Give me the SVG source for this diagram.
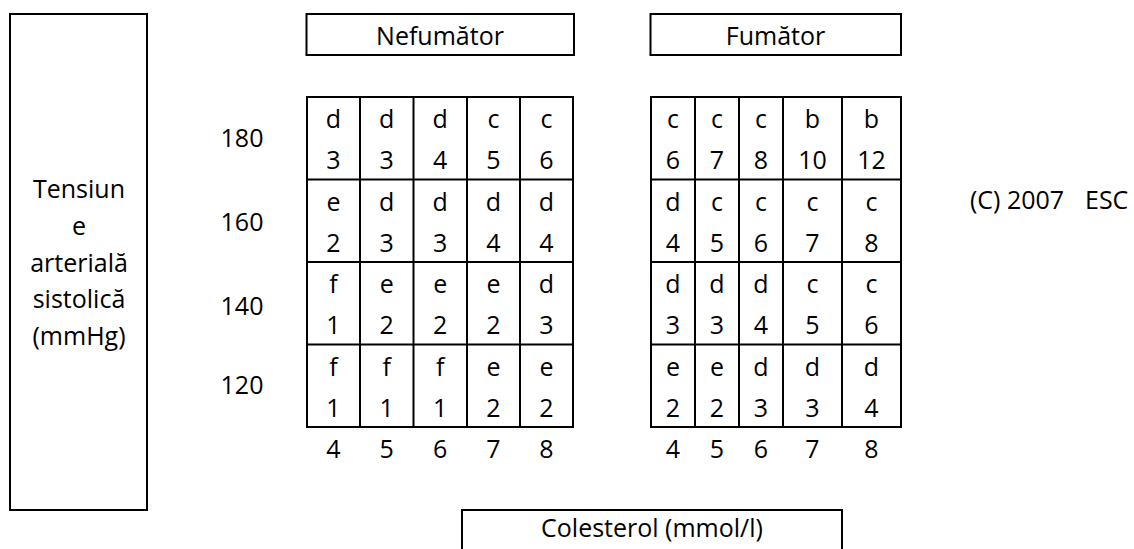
<svg xmlns="http://www.w3.org/2000/svg" width="1134" height="549" viewBox="0 0 1134 549">
<style>
.b{fill:none;stroke:#000;stroke-width:2}
.t{font-family:"Open Sans","Liberation Sans",sans-serif;font-size:25px;fill:#000}
.m{text-anchor:middle}
</style>
<rect width="1134" height="549" fill="#fff"/>
<g id="axis-y">
<rect class="b" x="10" y="14" width="137" height="496"/>
<text class="t m" x="79"><tspan x="79" y="198">Tensiun</tspan><tspan x="79" y="235">e</tspan><tspan x="79" y="271.5">arterială</tspan><tspan x="79" y="308">sistolică</tspan><tspan x="79" y="345">(mmHg)</tspan></text>
</g>
<g id="header-nefumator">
<rect class="b" x="306.5" y="14" width="267.5" height="41"/>
<text class="t m" x="440" y="45">Nefumător</text>
</g>
<g id="header-fumator">
<rect class="b" x="650.5" y="14" width="250.5" height="41"/>
<text class="t m" x="775.5" y="45">Fumător</text>
</g>
<g id="row-labels">
<text class="t m" x="242" y="147">180</text>
<text class="t m" x="242" y="231">160</text>
<text class="t m" x="242" y="315">140</text>
<text class="t m" x="242" y="394">120</text>
</g>
<g id="table-nefumator">
<rect class="b" x="307" y="97" width="266" height="330"/>
<path class="b" d="M360 97V427M413.5 97V427M467 97V427M520 97V427M307 179.5H573M307 262H573M307 344.5H573"/>
<g class="t m">
<text x="333.5" y="128">d</text><text x="386.75" y="128">d</text><text x="440.25" y="128">d</text><text x="493.5" y="128">c</text><text x="546.5" y="128">c</text>
<text x="333.5" y="169">3</text><text x="386.75" y="169">3</text><text x="440.25" y="169">4</text><text x="493.5" y="169">5</text><text x="546.5" y="169">6</text>
<text x="333.5" y="210.5">e</text><text x="386.75" y="210.5">d</text><text x="440.25" y="210.5">d</text><text x="493.5" y="210.5">d</text><text x="546.5" y="210.5">d</text>
<text x="333.5" y="251.5">2</text><text x="386.75" y="251.5">3</text><text x="440.25" y="251.5">3</text><text x="493.5" y="251.5">4</text><text x="546.5" y="251.5">4</text>
<text x="333.5" y="293">f</text><text x="386.75" y="293">e</text><text x="440.25" y="293">e</text><text x="493.5" y="293">e</text><text x="546.5" y="293">d</text>
<text x="333.5" y="334">1</text><text x="386.75" y="334">2</text><text x="440.25" y="334">2</text><text x="493.5" y="334">2</text><text x="546.5" y="334">3</text>
<text x="333.5" y="375.5">f</text><text x="386.75" y="375.5">f</text><text x="440.25" y="375.5">f</text><text x="493.5" y="375.5">e</text><text x="546.5" y="375.5">e</text>
<text x="333.5" y="416.5">1</text><text x="386.75" y="416.5">1</text><text x="440.25" y="416.5">1</text><text x="493.5" y="416.5">2</text><text x="546.5" y="416.5">2</text>
<text x="333.5" y="458">4</text><text x="386.75" y="458">5</text><text x="440.25" y="458">6</text><text x="493.5" y="458">7</text><text x="546.5" y="458">8</text>
</g>
</g>
<g id="table-fumator">
<rect class="b" x="651" y="97" width="250" height="330"/>
<path class="b" d="M695 97V427M739 97V427M783 97V427M842 97V427M651 179.5H901M651 262H901M651 344.5H901"/>
<g class="t m">
<text x="673" y="128">c</text><text x="717" y="128">c</text><text x="761" y="128">c</text><text x="812.5" y="128">b</text><text x="871.5" y="128">b</text>
<text x="673" y="169">6</text><text x="717" y="169">7</text><text x="761" y="169">8</text><text x="812.5" y="169">10</text><text x="871.5" y="169">12</text>
<text x="673" y="210.5">d</text><text x="717" y="210.5">c</text><text x="761" y="210.5">c</text><text x="812.5" y="210.5">c</text><text x="871.5" y="210.5">c</text>
<text x="673" y="251.5">4</text><text x="717" y="251.5">5</text><text x="761" y="251.5">6</text><text x="812.5" y="251.5">7</text><text x="871.5" y="251.5">8</text>
<text x="673" y="293">d</text><text x="717" y="293">d</text><text x="761" y="293">d</text><text x="812.5" y="293">c</text><text x="871.5" y="293">c</text>
<text x="673" y="334">3</text><text x="717" y="334">3</text><text x="761" y="334">4</text><text x="812.5" y="334">5</text><text x="871.5" y="334">6</text>
<text x="673" y="375.5">e</text><text x="717" y="375.5">e</text><text x="761" y="375.5">d</text><text x="812.5" y="375.5">d</text><text x="871.5" y="375.5">d</text>
<text x="673" y="416.5">2</text><text x="717" y="416.5">2</text><text x="761" y="416.5">3</text><text x="812.5" y="416.5">3</text><text x="871.5" y="416.5">4</text>
<text x="673" y="458">4</text><text x="717" y="458">5</text><text x="761" y="458">6</text><text x="812.5" y="458">7</text><text x="871.5" y="458">8</text>
</g>
</g>
<g id="copyright">
<text class="t" x="970" y="209">(C) 2007</text>
<text class="t" x="1085" y="209">ESC</text>
</g>
<g id="axis-x">
<rect class="b" x="462" y="510" width="380" height="60"/>
<text class="t m" x="652" y="537">Colesterol (mmol/l)</text>
</g>
</svg>
